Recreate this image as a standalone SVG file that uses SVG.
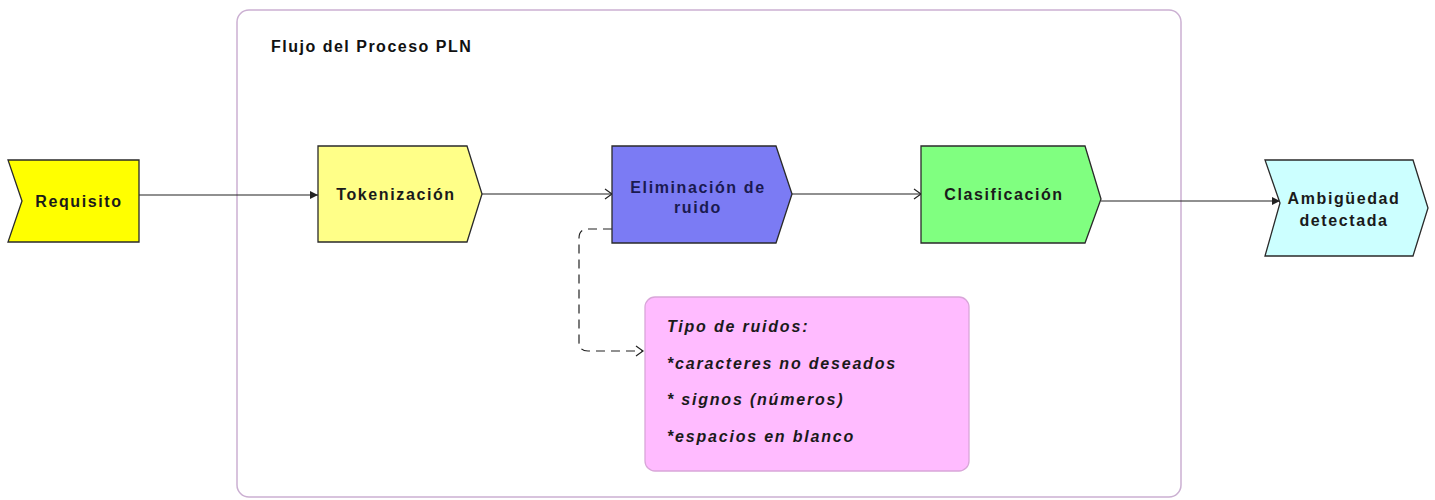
<svg xmlns="http://www.w3.org/2000/svg" width="1435" height="500" viewBox="0 0 1435 500">
<style>
.shape{stroke:#2a2a2a;stroke-width:1.3}
.lbl{font-family:"Liberation Sans",Arial,sans-serif;font-weight:bold;font-size:16px;letter-spacing:1.6px;fill:#1a1a1a;text-anchor:middle}
.note{font-family:"Liberation Sans",Arial,sans-serif;font-weight:bold;font-style:italic;font-size:16px;letter-spacing:1.8px;fill:#1a1a1a}
.conn{fill:none;stroke:#222;stroke-width:1.2}
</style>
<defs>
<marker id="filled" markerWidth="10" markerHeight="10" refX="9" refY="5" orient="auto" markerUnits="userSpaceOnUse">
<path d="M1,1 L9,5 L1,9 Z" fill="#222"/>
</marker>
<marker id="open" markerWidth="10" markerHeight="12" refX="9" refY="6" orient="auto" markerUnits="userSpaceOnUse">
<path d="M2,1 L9,6 L2,11" fill="none" stroke="#222" stroke-width="1.2"/>
</marker>
</defs>
<rect width="1435" height="500" fill="#ffffff"/>
<g id="container">
<rect x="237" y="10" width="944" height="487" rx="12" fill="#ffffff" stroke="#cbb0d2" stroke-width="1.5"/>
<text x="271" y="52" style="font-family:'Liberation Sans',Arial,sans-serif;font-weight:bold;font-size:16px;letter-spacing:1.5px;fill:#111">Flujo del Proceso PLN</text>
</g>
<g id="connectors">
<line class="conn" x1="139" y1="195" x2="318" y2="195" marker-end="url(#filled)"/>
<line class="conn" x1="482" y1="194" x2="612" y2="194" marker-end="url(#open)"/>
<line class="conn" x1="792" y1="194" x2="921" y2="194" marker-end="url(#open)"/>
<line class="conn" x1="1101" y1="201" x2="1280" y2="201" marker-end="url(#filled)"/>
<path class="conn" d="M612,229 L588,229 Q579,229 579,238 L579,342 Q579,351 588,351 L643,351" stroke-dasharray="9,6" marker-end="url(#open)"/>
</g>
<g id="requisito">
<polygon class="shape" points="8,160 139,160 139,242 8,242 22,201" fill="#ffff00"/>
<text class="lbl" x="79" y="207">Requisito</text>
</g>
<g id="tokenizacion">
<polygon class="shape" points="318,146 467,146 482,194 467,242 318,242" fill="#ffff88"/>
<text class="lbl" x="396" y="200">Tokenización</text>
</g>
<g id="eliminacion">
<polygon class="shape" points="612,146 776,146 792,194 776,243 612,243" fill="#7b7bf4"/>
<text class="lbl" x="698" y="193" style="fill:#1a1a50">Eliminación de</text>
<text class="lbl" x="698" y="213" style="fill:#1a1a50">ruido</text>
</g>
<g id="clasificacion">
<polygon class="shape" points="921,146 1085,146 1101,199 1085,243 921,243" fill="#80ff80"/>
<text class="lbl" x="1004" y="200">Clasificación</text>
</g>
<g id="ambiguedad">
<polygon class="shape" points="1265,160 1413,160 1428,208 1413,256 1265,256 1280,203" fill="#ccffff"/>
<text class="lbl" x="1344" y="204">Ambigüedad</text>
<text class="lbl" x="1344" y="226">detectada</text>
</g>
<g id="nota">
<rect x="645" y="297" width="324" height="174" rx="10" fill="#ffbbff" stroke="#d9a6d9" stroke-width="1.3"/>
<text class="note" x="667" y="332">Tipo de ruidos:</text>
<text class="note" x="667" y="369">*caracteres no deseados</text>
<text class="note" x="667" y="405">* signos (números)</text>
<text class="note" x="667" y="442">*espacios en blanco</text>
</g>
</svg>
